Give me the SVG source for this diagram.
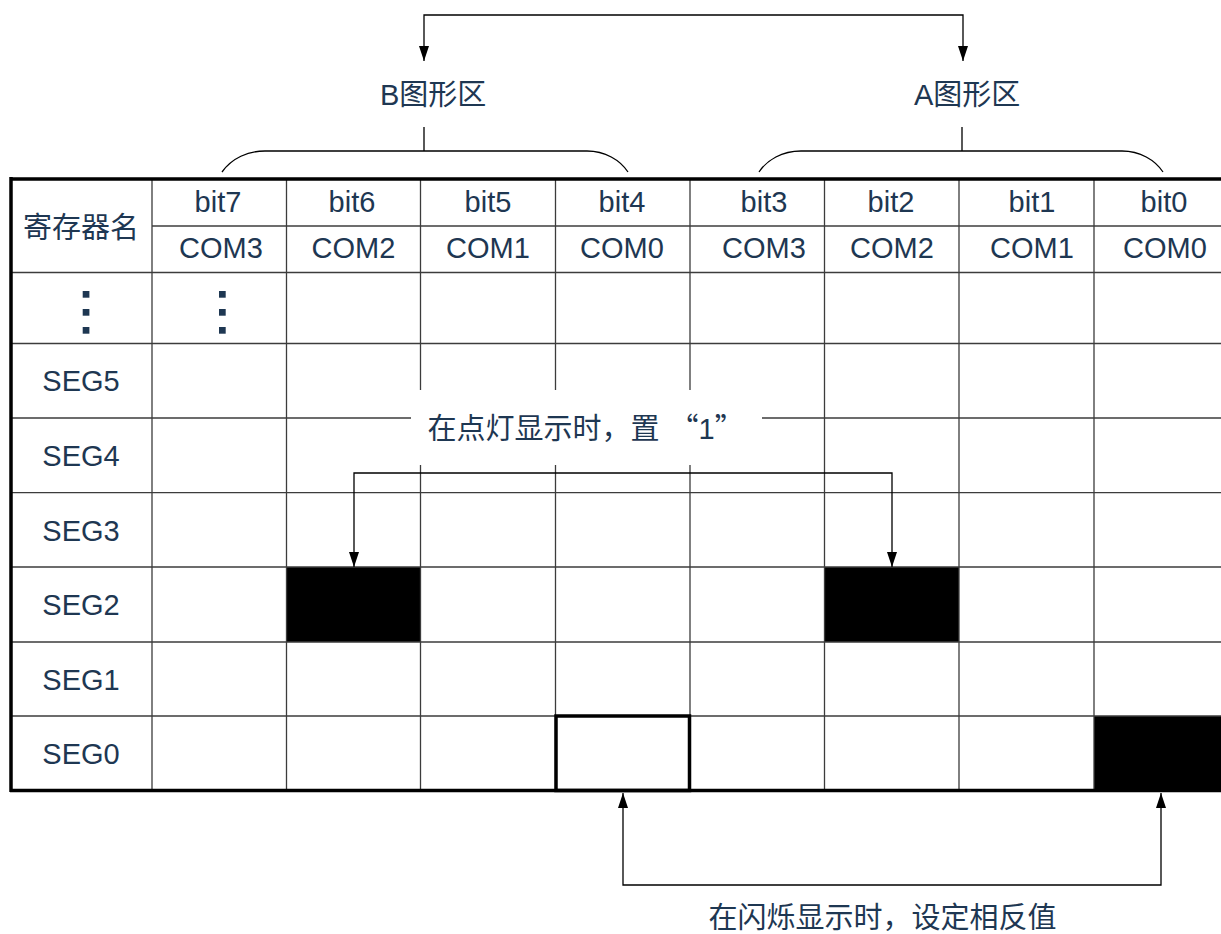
<svg xmlns="http://www.w3.org/2000/svg" width="1221" height="934" viewBox="0 0 1221 934">
<style>
.t{font-family:"Liberation Sans","Noto Sans CJK SC",sans-serif;font-size:29px;fill:#1e3752}
.c{font-family:"Noto Sans CJK SC","Liberation Sans",sans-serif;font-size:29px;fill:#1e3752}
.m{text-anchor:middle}
.g{stroke:#3c3c3c;stroke-width:1.3;fill:none}
.b{stroke:#000;stroke-width:3.5;fill:none}
.k{stroke:#000;stroke-width:1.3;fill:none}
.a{stroke:#000;stroke-width:1.3;fill:none;marker-end:url(#ah)}
.f{fill:#000}
.d{fill:#1e3752}
</style>
<defs>
<marker id="ah" markerUnits="userSpaceOnUse" markerWidth="16" markerHeight="11" refX="15" refY="5" orient="auto" viewBox="0 0 16 11">
<path d="M0,0 L15,5 L0,10 z" fill="#000"/>
</marker>
</defs>
<rect width="1221" height="934" fill="#fff"/>

<g id="cells-filled">
<rect class="f" x="286.5" y="567" width="134" height="75"/>
<rect class="f" x="824.5" y="567" width="134.5" height="75"/>
<rect class="f" x="1094" y="716" width="127" height="75"/>
</g>

<g id="grid">
<path class="g" d="M152,226 H1221"/>
<path class="g" d="M10,272.5 H1221 M10,343.5 H1221 M10,418 H1221 M10,492.7 H1221 M10,567 H1221 M10,642 H1221 M10,716 H1221"/>
<path class="g" d="M152,179 V790 M286.5,179 V790 M420.5,179 V790 M555.5,179 V790 M690,179 V790 M824.5,179 V790 M959,179 V790 M1094,179 V790"/>
<path class="b" d="M10,179 H1221 M11,177 V792 M10,790.5 H1221"/>
<rect x="556" y="716" width="133.5" height="74.5" fill="none" stroke="#000" stroke-width="3.5"/>
</g>

<g id="header">
<text class="c m" x="81" y="238">寄存器名</text>
<text class="t m" x="218" y="212">bit7</text>
<text class="t m" x="352" y="212">bit6</text>
<text class="t m" x="488" y="212">bit5</text>
<text class="t m" x="622" y="212">bit4</text>
<text class="t m" x="764" y="212">bit3</text>
<text class="t m" x="891" y="212">bit2</text>
<text class="t m" x="1032" y="212">bit1</text>
<text class="t m" x="1164" y="212">bit0</text>
<text class="t m" x="221" y="258">COM3</text>
<text class="t m" x="353.5" y="258">COM2</text>
<text class="t m" x="488" y="258">COM1</text>
<text class="t m" x="622" y="258">COM0</text>
<text class="t m" x="764" y="258">COM3</text>
<text class="t m" x="892" y="258">COM2</text>
<text class="t m" x="1032" y="258">COM1</text>
<text class="t m" x="1165" y="258">COM0</text>
</g>

<g id="rows">
<rect class="d" x="82.7" y="291" width="6.7" height="6.7"/>
<rect class="d" x="82.7" y="309" width="6.7" height="6.7"/>
<rect class="d" x="82.7" y="327" width="6.7" height="6.7"/>
<rect class="d" x="219" y="291" width="6.7" height="6.7"/>
<rect class="d" x="219" y="309" width="6.7" height="6.7"/>
<rect class="d" x="219" y="327" width="6.7" height="6.7"/>
<text class="t m" x="81" y="391">SEG5</text>
<text class="t m" x="81" y="466">SEG4</text>
<text class="t m" x="81" y="540.5">SEG3</text>
<text class="t m" x="81" y="615">SEG2</text>
<text class="t m" x="81" y="690">SEG1</text>
<text class="t m" x="81" y="764">SEG0</text>
</g>

<g id="area-labels">
<text class="c" x="380" y="105"><tspan font-family="Liberation Sans">B</tspan>图形区</text>
<text class="c" x="914" y="105"><tspan font-family="Liberation Sans">A</tspan>图形区</text>
</g>

<g id="label-set1">
<rect x="411" y="390" width="351" height="75" fill="#fff"/>
<text class="c" x="427.5" y="439">在点灯显示时，置<tspan dx="10">“</tspan><tspan font-family="Liberation Sans">1</tspan>”</text>
</g>

<g id="label-blink">
<text class="c" x="708.5" y="928">在闪烁显示时，设定相反值</text>
</g>

<g id="connectors">
<path class="a" d="M693,15 H424 V61"/>
<path class="a" d="M693,15 H963 V61"/>
<path class="k" d="M424,127 V151 M962,127 V151"/>
<path class="k" d="M222,172 C232,158 248,151 265,151 H587 C605,151 620,160 628,172"/>
<path class="k" d="M759,172 C767,160 782,151 801,151 H1122 C1140,151 1155,160 1163,172"/>
<path class="a" d="M622,473 H354 V567"/>
<path class="a" d="M622,473 H892 V567"/>
<path class="a" d="M892,885 H623 V793"/>
<path class="a" d="M892,885 H1161 V793"/>
</g>
</svg>
